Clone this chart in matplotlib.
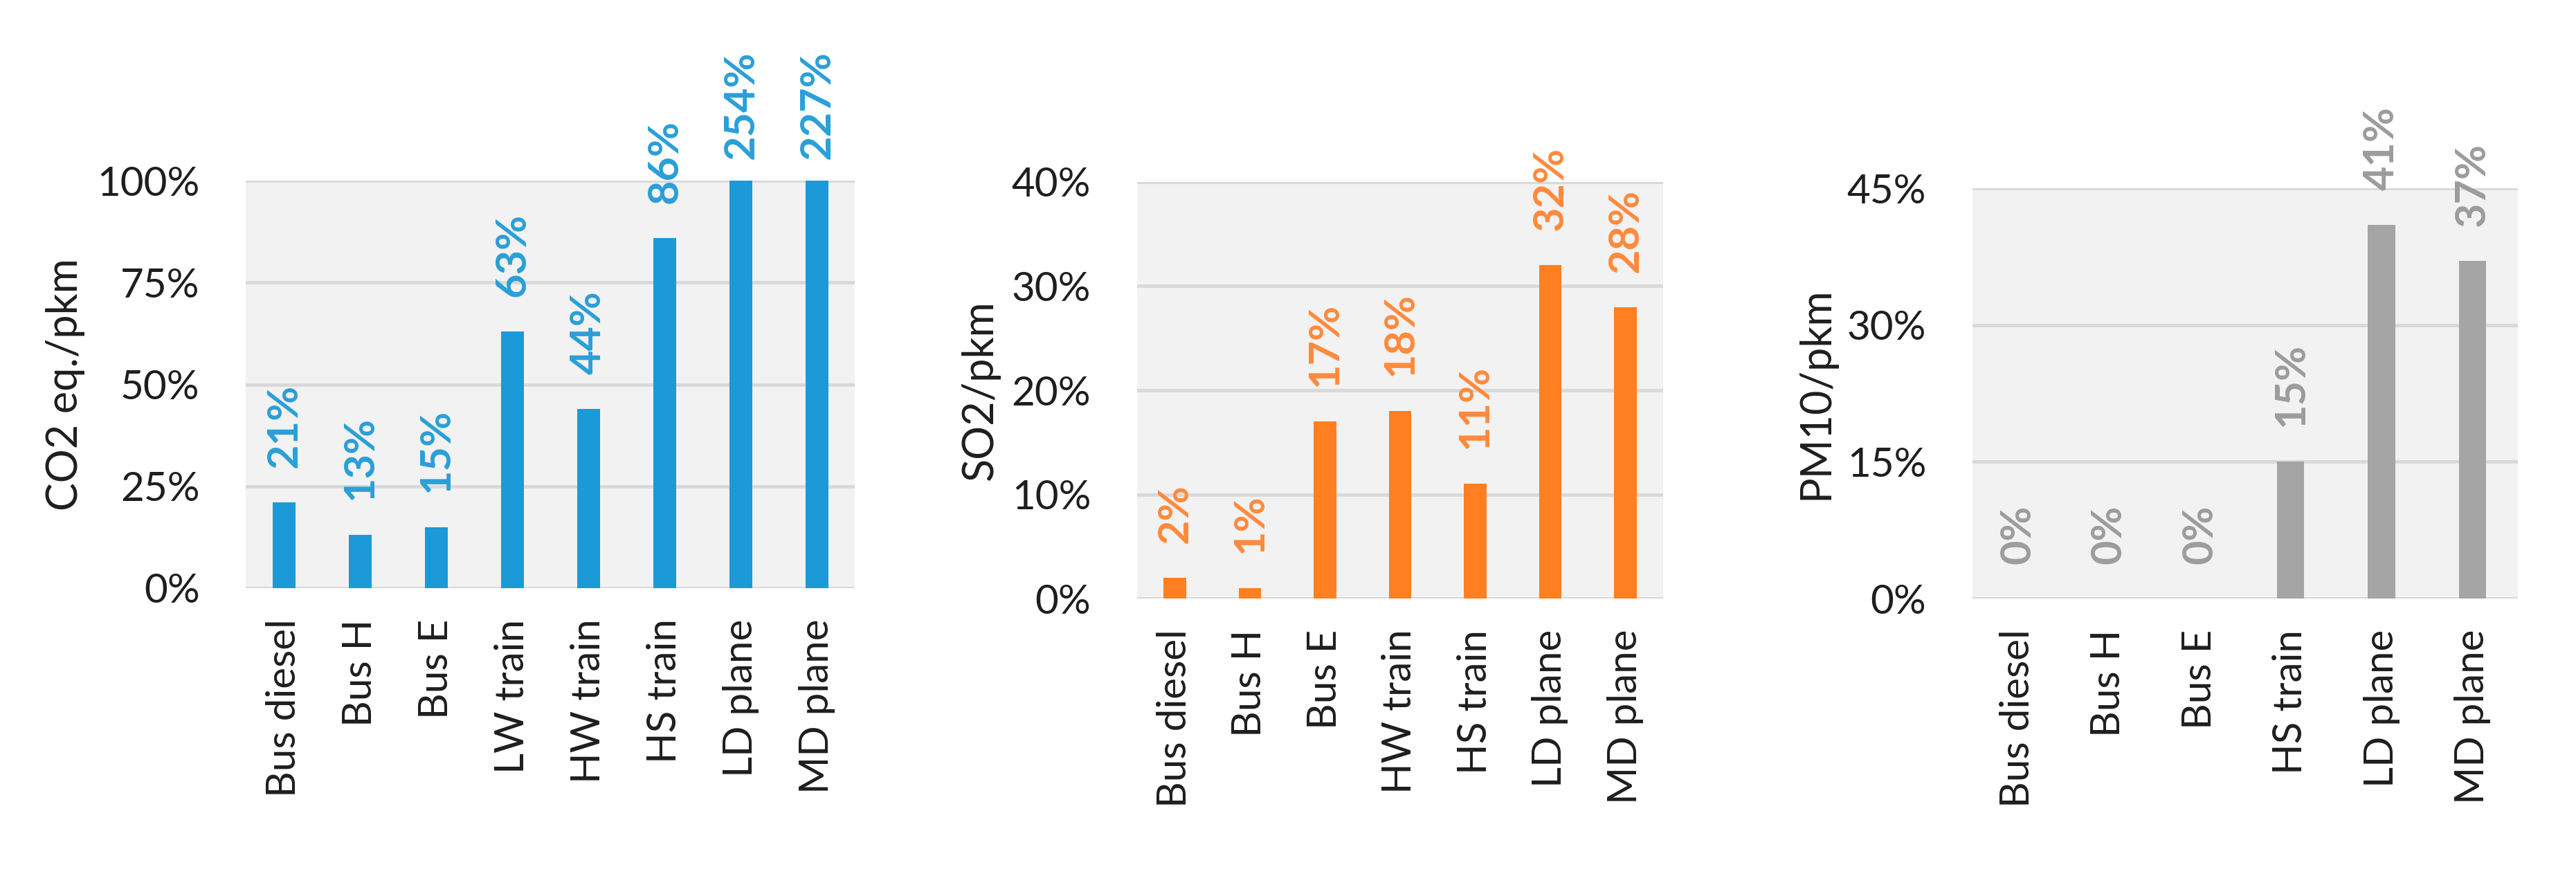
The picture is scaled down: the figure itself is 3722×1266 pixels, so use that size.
import matplotlib
matplotlib.use("Agg")
import matplotlib.pyplot as plt
from matplotlib.ticker import PercentFormatter

plt.rcParams['font.family'] = ['Lato', 'DejaVu Sans']

# CO2 panel
co2_cats = ["Bus diesel", "Bus H", "Bus E", "LW train", "HW train", "HS train", "LD plane", "MD plane"]
co2_vals = [0.21, 0.13, 0.15, 0.63, 0.44, 0.86, 2.54, 2.27]
co2_ticks = [0, 0.25, 0.5, 0.75, 1.0]

# SO2 panel
so2_cats = ["Bus diesel", "Bus H", "Bus E", "HW train", "HS train", "LD plane", "MD plane"]
so2_vals = [0.02, 0.01, 0.17, 0.18, 0.11, 0.32, 0.28]
so2_ticks = [0, 0.1, 0.2, 0.3, 0.4]

# PM10 panel
pm_cats = ["Bus diesel", "Bus H", "Bus E", "HS train", "LD plane", "MD plane"]
pm_vals = [0.0, 0.0, 0.0, 0.15, 0.41, 0.37]
pm_ticks = [0, 0.15, 0.30, 0.45]

fig = plt.figure(figsize=(37.23, 12.66), dpi=100)

panels = [
    ([0.0954, 0.3286, 0.2364, 0.4652], co2_cats, co2_vals, co2_ticks, "CO2 eq./pkm", "#1B9AD7", "#2A9FD8"),
    ([0.4413, 0.3167, 0.2041, 0.4756], so2_cats, so2_vals, so2_ticks, "SO2/pkm", "#FF7F21", "#FF8A3D"),
    ([0.7655, 0.3167, 0.2117, 0.4684], pm_cats, pm_vals, pm_ticks, "PM10/pkm", "#A5A5A5", "#9C9C9C"),
]

fs = 42

for rect, cats, vals, ticks, ylabel, color, lcolor in panels:
    ax = fig.add_axes(rect)
    ax.set_facecolor("#F2F2F2")
    top = ticks[-1]
    x = range(len(cats))
    shown = [min(v, top) for v in vals]
    ax.bar(x, shown, width=0.3, color=color, zorder=3)
    ax.set_xlim(-0.5, len(cats) - 0.5)
    ax.set_ylim(0, top)
    ax.set_yticks(ticks)
    ax.yaxis.set_major_formatter(PercentFormatter(1.0, decimals=0))
    ax.set_xticks(list(x))
    ax.set_xticklabels(cats, rotation=90)
    ax.grid(axis="y", color="#D9D9D9", linewidth=3.5, zorder=1)
    ax.set_axisbelow(True)
    for s in ax.spines.values():
        s.set_visible(False)
    ax.tick_params(length=0, labelsize=fs, colors="#1E1E1E")
    ax.tick_params(axis="y", pad=48)
    ax.tick_params(axis="x", pad=32)
    ax.set_ylabel(ylabel, fontsize=44, labelpad=12, color="#1E1E1E")
    # value labels; clipped bars get their label just above the top line
    for i, v in enumerate(vals):
        off = 22 if v >= top else 36
        ax.annotate(f"{v*100:.0f}%", (i, min(v, top)), xytext=(0, off),
                    textcoords="offset points", rotation=90, ha="center", va="bottom",
                    fontsize=44, color=lcolor, fontweight="bold", annotation_clip=False)

fig.savefig("out.png", dpi=100)
